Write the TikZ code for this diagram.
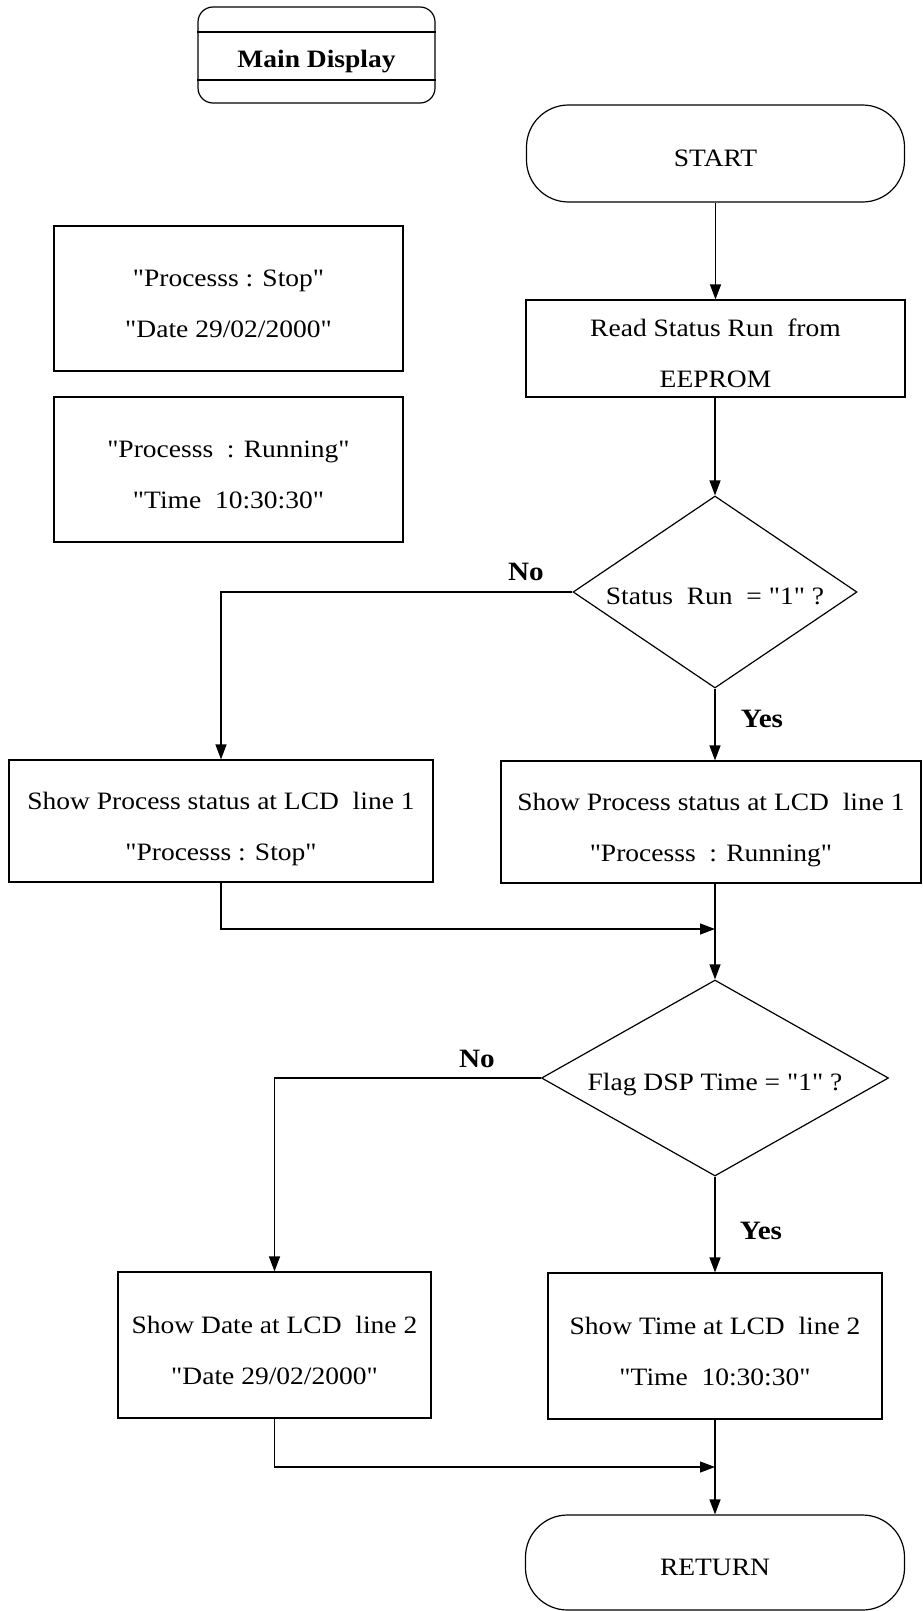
\documentclass[tikz,border=0pt]{standalone}
\usepackage{fontspec}
\setmainfont{Liberation Serif}[FakeStretch=1.1, Ligatures=TeXOff]
\usetikzlibrary{shapes.geometric,arrows.meta}

\begin{document}
\begin{tikzpicture}[x=1pt,y=-1pt,
  line width=1.2pt,
  every node/.style={align=center, inner sep=0pt,
    font=\fontsize{25}{51}\selectfont},
  oneline/.style={text height=25pt, text depth=0pt},
  twoline/.style={text height=78pt, text depth=0pt},
  box/.style={draw, rectangle, twoline},
  term/.style={draw, rectangle, rounded corners=42pt, oneline},
  decision/.style={draw, diamond, oneline},
  answer/.style={anchor=base, font=\fontsize{26.5}{30}\selectfont\bfseries},
  flow/.style={-{Triangle[length=15pt,width=11pt]}},
]
\useasboundingbox (0,0) rectangle (923,1611);

% title block
\node[draw, rectangle, rounded corners=15pt, minimum width=237pt, minimum height=96pt] (main) at (316.5,55) {};
\draw (main.west |- 0,32) -- (main.east |- 0,32);
\draw (main.west |- 0,80) -- (main.east |- 0,80);
\node[anchor=base, font=\fontsize{25}{30}\selectfont\bfseries] (maintxt) at (316.5,67) {Main Display};

% sample display contents
\node[box, minimum width=349pt, minimum height=145pt] (lb1) at (228.5,298.5)
  {"Processs : Stop"\\"Date 29/02/2000"};
\node[box, minimum width=349pt, minimum height=145pt] (lb2) at (228.5,469.5)
  {"Processs~ : Running"\\"Time~ 10:30:30"};

% main flow
\node[term, minimum width=378pt, minimum height=97pt] (start) at (715.5,153.5) {START};
\node[box, minimum width=379pt, minimum height=97pt] (read) at (715.5,348.5)
  {Read Status Run~ from\\EEPROM};
\node[decision, aspect=1.48, minimum width=284pt, minimum height=192pt] (d1) at (715,592)
  {Status~ Run~ = "1" ?};
\node[box, minimum width=424pt, minimum height=122pt] (lshow) at (221,821)
  {Show Process status at LCD~ line 1\\"Processs : Stop"};
\node[box, minimum width=420pt, minimum height=122pt] (rshow) at (711,822)
  {Show Process status at LCD~ line 1\\"Processs~ : Running"};
\coordinate (m1) at (715,929);
\node[decision, aspect=1.77, minimum width=347pt, minimum height=196pt] (d2) at (715,1078)
  {Flag DSP Time = "1" ?};
\node[box, minimum width=313pt, minimum height=146pt] (date) at (274.5,1345)
  {Show Date at LCD~ line 2\\"Date 29/02/2000"};
\node[box, minimum width=334pt, minimum height=146pt] (time) at (715,1346)
  {Show Time at LCD~ line 2\\"Time~ 10:30:30"};
\coordinate (m2) at (715,1467);
\node[term, minimum width=379pt, minimum height=95pt] (ret) at (715,1562.5) {RETURN};

% branch labels
\node[answer] (no1) at (526,580) {No};
\node[answer] (yes1) at (762,727) {Yes};
\node[answer] (no2) at (477,1067) {No};
\node[answer] (yes2) at (761,1239) {Yes};

% connectors
\draw[flow] (start.south -| read.north) -- (read.north);
\draw[flow] (read.south -| d1.north) -- (d1.north);
\draw[flow] (d1.west) -| (lshow.north);
\draw[flow] (d1.south) -- (d1.south |- rshow.north);
\draw[flow] (lshow.south) |- (m1);
\draw[flow] (d2.north |- rshow.south) -- (d2.north);
\draw[flow] (d2.west) -| (date.north);
\draw[flow] (d2.south) -- (time.north);
\draw[flow] (date.south) |- (m2);
\draw[flow] (time.south) -- (ret.north);
\end{tikzpicture}
\end{document}
